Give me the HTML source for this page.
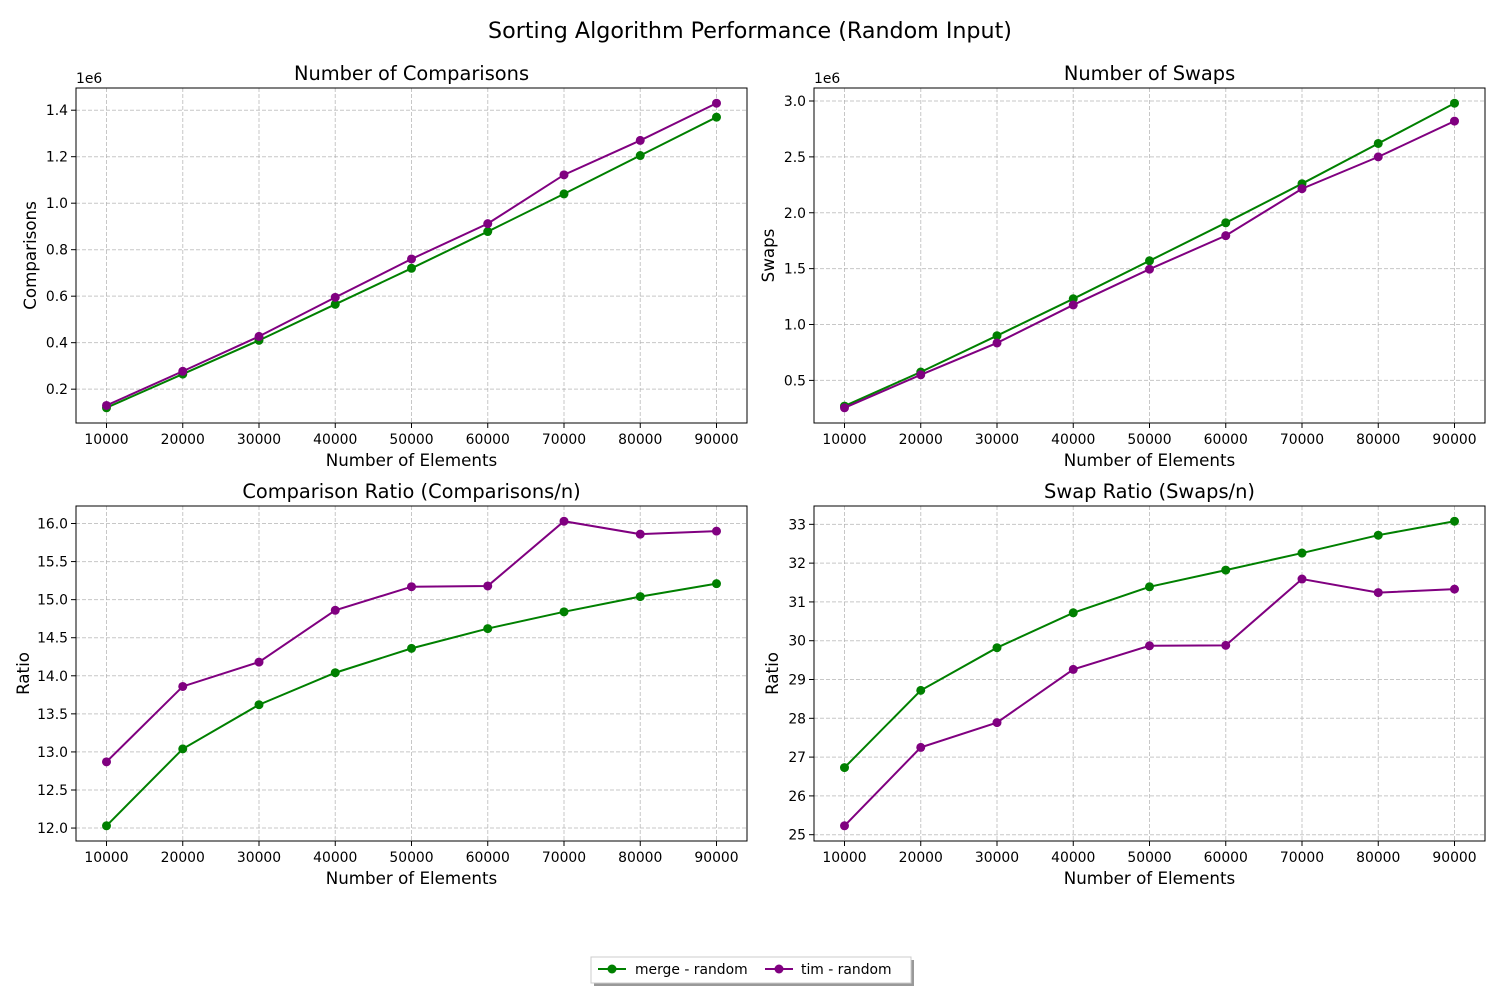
<!DOCTYPE html>
<html><head><meta charset="utf-8">
<style>
body{margin:0;background:#fff;}
svg text{font-family:"DejaVu Sans","Liberation Sans",sans-serif;fill:#000;}
</style></head>
<body>
<svg id="chart" width="1500" height="1000" xmlns="http://www.w3.org/2000/svg">
<rect width="1500" height="1000" fill="#fff"/>
<text x="750" y="38" font-size="22.2" text-anchor="middle">Sorting Algorithm Performance (Random Input)</text>
<g id="plots"></g>
<g>
<rect x="594" y="960" width="320" height="26" fill="#555" opacity="0.6"/>
<rect x="591" y="957" width="320" height="26" fill="#fff" stroke="#ccc"/>
<line x1="598" y1="969" x2="626" y2="969" stroke="green" stroke-width="2"/>
<circle cx="612" cy="969" r="4.5" fill="green"/>
<text x="635" y="974" font-size="13.9">merge - random</text>
<line x1="765" y1="969" x2="793" y2="969" stroke="purple" stroke-width="2"/>
<circle cx="779" cy="969" r="4.5" fill="purple"/>
<text x="801" y="974" font-size="13.9">tim - random</text>
</g>
</svg>
<script>
const categories=[10000,20000,30000,40000,50000,60000,70000,80000,90000];
const xTicks=[10000,20000,30000,40000,50000,60000,70000,80000,90000];
const compMerge=[0.12,0.265,0.41,0.565,0.72,0.878,1.04,1.205,1.37];
const compTim=[0.13,0.277,0.427,0.595,0.76,0.912,1.122,1.27,1.43];
const swapMerge=[0.27,0.575,0.9,1.23,1.57,1.91,2.26,2.62,2.98];
const swapTim=[0.255,0.55,0.835,1.175,1.495,1.795,2.215,2.5,2.82];
const cratioMerge=[12.03,13.04,13.62,14.04,14.36,14.62,14.84,15.04,15.21];
const cratioTim=[12.87,13.86,14.18,14.86,15.17,15.18,16.03,15.86,15.9];
const sratioMerge=[26.73,28.72,29.82,30.72,31.39,31.82,32.26,32.72,33.08];
const sratioTim=[25.23,27.25,27.89,29.26,29.87,29.88,31.59,31.24,31.33];
const compTicks=[0.2,0.4,0.6,0.8,1.0,1.2,1.4];
const swapTicks=[0.5,1.0,1.5,2.0,2.5,3.0];
const cratioTicks=[12.0,12.5,13.0,13.5,14.0,14.5,15.0,15.5,16.0];
const sratioTicks=[25,26,27,28,29,30,31,32,33];

const NS="http://www.w3.org/2000/svg";
const root=document.getElementById('plots');
function mk(tag,attrs,parent,text){const e=document.createElementNS(NS,tag);for(const k in attrs)e.setAttribute(k,attrs[k]);if(text!==undefined)e.textContent=text;parent.appendChild(e);return e;}

const panels=[
 {name:'comparisons',x0:76,y0:88,title:'Number of Comparisons',ylab:'Comparisons',a:compMerge,b:compTim,ticks:compTicks,dec:1,exp:true,yoff:40},
 {name:'swaps',x0:814,y0:88,title:'Number of Swaps',ylab:'Swaps',a:swapMerge,b:swapTim,ticks:swapTicks,dec:1,exp:true,yoff:40},
 {name:'comparison-ratio',x0:76,y0:506,title:'Comparison Ratio (Comparisons/n)',ylab:'Ratio',a:cratioMerge,b:cratioTim,ticks:cratioTicks,dec:1,exp:false,yoff:47},
 {name:'swap-ratio',x0:814,y0:506,title:'Swap Ratio (Swaps/n)',ylab:'Ratio',a:sratioMerge,b:sratioTim,ticks:sratioTicks,dec:0,exp:false,yoff:36}
];
const W=671,H=335;
panels.forEach(p=>{
 const g=mk('g',{},root);
 
 
 const xmin=Math.min(...categories),xmax=Math.max(...categories),xm=(xmax-xmin)*0.05;
 const xs=v=>p.x0+(v-(xmin-xm))/((xmax-xmin)+2*xm)*W;
 const all=p.a.concat(p.b);const ymin=Math.min(...all),ymax=Math.max(...all),ym=(ymax-ymin)*0.05;
 const ys=v=>p.y0+H-(v-(ymin-ym))/((ymax-ymin)+2*ym)*H;
 xTicks.forEach(t=>{
  const X=xs(t);
  const l=mk('line',{x1:X,x2:X,y1:p.y0,y2:p.y0+H,stroke:'#b0b0b0','stroke-width':1,'stroke-dasharray':'4,2',opacity:0.7},g);
  
  mk('line',{x1:X,x2:X,y1:p.y0+H,y2:p.y0+H+5,stroke:'#000'},g);
  const tx=mk('text',{x:X,y:p.y0+H+21,'font-size':13.9,'text-anchor':'middle'},g,String(t));
  
 });
 p.ticks.forEach(t=>{
  const Y=ys(t);
  const l=mk('line',{x1:p.x0,x2:p.x0+W,y1:Y,y2:Y,stroke:'#b0b0b0','stroke-width':1,'stroke-dasharray':'4,2',opacity:0.7},g);
  
  mk('line',{x1:p.x0-5,x2:p.x0,y1:Y,y2:Y,stroke:'#000'},g);
  const tx=mk('text',{x:p.x0-8,y:Y+5,'font-size':13.9,'text-anchor':'end'},g,t.toFixed(p.dec));
  
 });
 const fr=mk('rect',{x:p.x0,y:p.y0,width:W,height:H,fill:'none',stroke:'#000','stroke-width':1},g);
 
 [[p.a,'green','merge'],[p.b,'purple','tim']].forEach(([arr,c,n])=>{
  const pts=arr.map((v,i)=>xs(categories[i])+','+ys(v)).join(' ');
  const pl=mk('polyline',{points:pts,fill:'none',stroke:c,'stroke-width':2},g);
  
  arr.forEach((v,i)=>{
   const ci=mk('circle',{cx:xs(categories[i]),cy:ys(v),r:4.5,fill:c},g);
   
  });
 });
 const tt=mk('text',{x:p.x0+W/2,y:p.y0-8,'font-size':19.4,'text-anchor':'middle'},g,p.title);
 
 const xl=mk('text',{x:p.x0+W/2,y:p.y0+H+43,'font-size':16.7,'text-anchor':'middle'},g,'Number of Elements');
 
 const yx=p.x0-p.yoff,yy=p.y0+H/2;
 const yl=mk('text',{x:yx,y:yy,'font-size':16.7,'text-anchor':'middle',transform:'rotate(-90 '+yx+' '+yy+')'},g,p.ylab);
 
 if(p.exp){
  const e=mk('text',{x:p.x0,y:p.y0-5,'font-size':13.9},g,'1e6');
  
 }
});
</script>
</body></html>
